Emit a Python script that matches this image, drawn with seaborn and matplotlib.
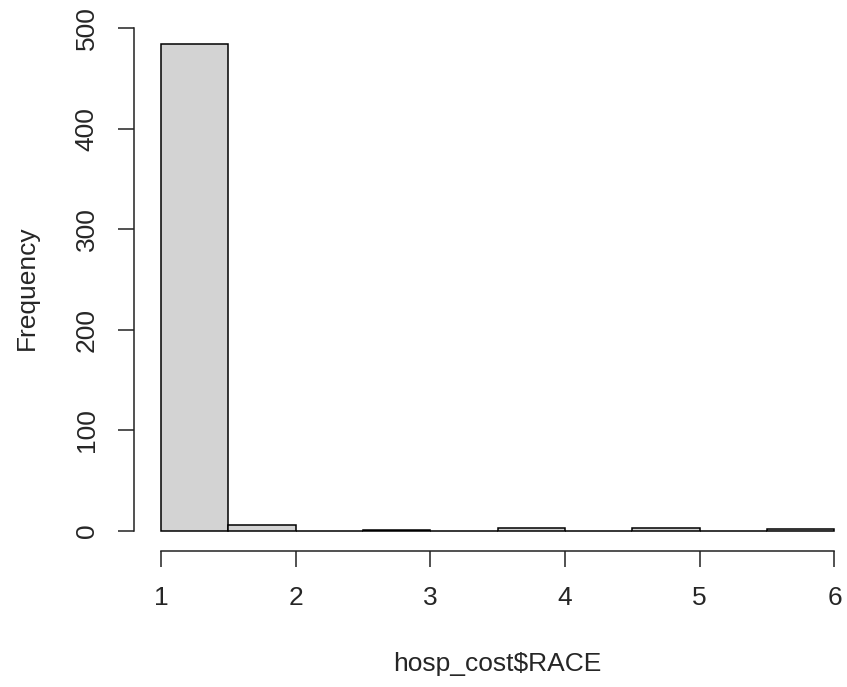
import numpy as np
import pandas as pd
import matplotlib
matplotlib.use("Agg")
import matplotlib.pyplot as plt
import seaborn as sns

# RACE counts (R hist, breaks of 0.5)
race_values = [1, 2, 3, 4, 5, 6]
race_counts = [484, 6, 1, 3, 3, 2]
break_edges = [1.0, 1.5, 2.0, 2.5, 3.0, 3.5, 4.0, 4.5, 5.0, 5.5, 6.0]

sns.set_style("ticks")
plt.rcParams['font.family'] = ['Liberation Sans', 'DejaVu Sans']

# R hist() uses right-closed bins, so bin here and let seaborn draw
race = pd.Series(np.repeat(race_values, race_counts))
binned = pd.cut(race, break_edges, right=True, include_lowest=True)
per_bin = binned.value_counts(sort=False)
bins_df = pd.DataFrame({'left': [float(b) for b in break_edges[:-1]],
                        'n': per_bin.values.astype(float)})

fig = plt.figure(figsize=(8.47, 6.87), dpi=100)
ax = fig.add_axes([134 / 847, (687 - 550.5) / 687, 727.4 / 847, 525.9 / 687])

sns.histplot(data=bins_df, x='left', weights='n', bins=break_edges,
             color='#d3d3d3', edgecolor='black', linewidth=1.1, alpha=1,
             ax=ax)

ax.set_xlim(0.8, 6.2)
ax.set_ylim(-19.36, 503.36)
ax.set_xticks([1, 2, 3, 4, 5, 6])
ax.set_yticks([0, 100, 200, 300, 400, 500])

sns.despine(ax=ax)
ax.spines['left'].set_bounds(0, 500)
ax.spines['bottom'].set_bounds(1, 6)
for s in ['left', 'bottom']:
    ax.spines[s].set_linewidth(1.1)
    ax.spines[s].set_color('#222222')

ax.tick_params(axis='both', length=11.5, width=1.1, color='#222222',
               labelsize=19, pad=14, direction='out')
ax.tick_params(axis='y', labelrotation=90)
for lab in ax.get_yticklabels():
    lab.set_va('center')

ax.set_xlabel('hosp_cost$RACE', fontsize=19, labelpad=30)
ax.set_ylabel('Frequency', fontsize=19, labelpad=26)

fig.savefig('out.png', dpi=100)
